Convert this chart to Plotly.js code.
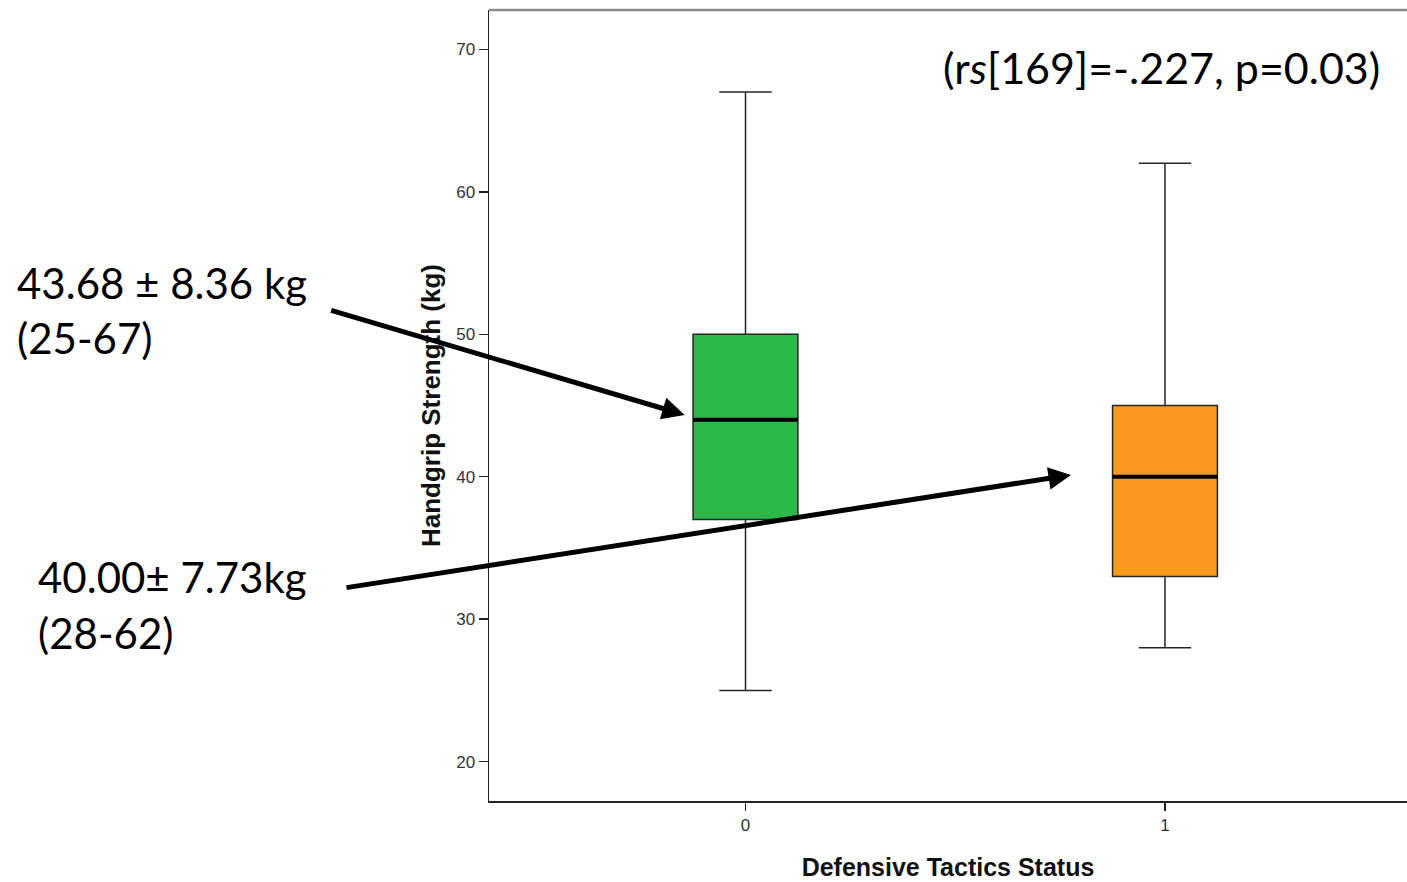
<!DOCTYPE html>
<html>
<head>
<meta charset="utf-8">
<script src="https://cdn.plot.ly/plotly-3.0.1.min.js"></script>
<style>html,body{margin:0;padding:0;background:#fff;}#chart{width:1407px;height:882px;}</style>
</head>
<body>
<div id="chart"></div>
<script>
// ---- data ----
const groups = ['0', '1'];
const groupPos = [0, 1];
const q1 = [37, 33];
const median = [44, 40];
const q3 = [50, 45];
const lowerWhisker = [25, 28];
const upperWhisker = [67, 62];
const boxColors = ['#2db84a', '#f7981f'];
const yTicks = [20, 30, 40, 50, 60, 70];
const summaryLines = [
  ['43.68 ± 8.36 kg', '(25-67)'],
  ['40.00± 7.73kg', '(28-62)']
];
const statText = '(r<i>s</i>[169]=-.227, p=0.03)';

// ---- styles ----
const BOX_W = 0.25;
const axisFont = {family: 'Liberation Sans, Arial, sans-serif', size: 17, color: '#333'};
const xTitleFont = {family: 'Liberation Sans, Arial, sans-serif', size: 25, color: '#111', weight: 'bold'};
const yTitleFont = {family: 'Liberation Sans, Arial, sans-serif', size: 26, color: '#111', weight: 'bold'};
const noteFont = {family: 'Lato, sans-serif', size: 42, color: '#000'};
const statFont = {family: 'Lato, sans-serif', size: 43, color: '#000'};

const traces = [];
groupPos.forEach((p, i) => {
  traces.push({
    type: 'box', x: [p], q1: [q1[i]], median: [median[i]], q3: [q3[i]],
    lowerfence: [lowerWhisker[i]], upperfence: [upperWhisker[i]],
    width: BOX_W, whiskerwidth: 0.5, boxpoints: false,
    fillcolor: boxColors[i], line: {color: '#262626', width: 1.5},
    hoverinfo: 'skip', showlegend: false
  });
});
groupPos.forEach((p, i) => {
  traces.push({
    type: 'scatter', mode: 'lines',
    x: [p - BOX_W / 2, p + BOX_W / 2], y: [median[i], median[i]],
    line: {color: '#000', width: 4}, hoverinfo: 'skip', showlegend: false
  });
});

// annotation placement (paper coords)
const notePos = [
  {x: -0.5163, y: [0.655, 0.585]},
  {x: -0.4935, y: [0.283, 0.213]}
];
const arrowSpec = [
  {dx: -0.145, dy: 0.34, ax: -355, ay: -105},
  {dx: -0.224, dy: 0.13, ax: -726, ay: 113}
];

const annotations = [];
summaryLines.forEach((lines, i) => {
  lines.forEach((t, j) => {
    annotations.push({
      xref: 'paper', yref: 'paper', x: notePos[i].x, y: notePos[i].y[j],
      xanchor: 'left', yanchor: 'middle', text: t, showarrow: false, font: noteFont
    });
  });
  annotations.push({
    xref: 'x', yref: 'y', x: groupPos[i] + arrowSpec[i].dx, y: median[i] + arrowSpec[i].dy,
    ax: arrowSpec[i].ax, ay: arrowSpec[i].ay, text: '', showarrow: true,
    arrowhead: 2, arrowsize: 0.9, arrowwidth: 5, arrowcolor: '#000', standoff: 0
  });
});
annotations.push({
  xref: 'paper', yref: 'paper', x: 0.733, y: 0.9267, xanchor: 'center', yanchor: 'middle',
  text: statText, showarrow: false, font: statFont
});

const layout = {
  width: 1407, height: 882,
  margin: {l: 489, r: 0, t: 10, b: 81},
  paper_bgcolor: '#fff', plot_bgcolor: '#fff',
  showlegend: false,
  xaxis: {
    range: [-0.6115, 1.577], tickvals: groupPos, ticktext: groups,
    showgrid: false, zeroline: false, showline: true, linecolor: '#222', linewidth: 1.5,
    ticks: 'outside', ticklen: 8, tickwidth: 1.5, tickcolor: '#222', tickfont: axisFont,
    title: {text: 'Defensive Tactics Status', font: xTitleFont, standoff: 24}
  },
  yaxis: {
    range: [17.24, 72.76], tickvals: yTicks,
    showgrid: false, zeroline: false, showline: true, linecolor: '#222', linewidth: 1.5,
    ticks: 'outside', ticklen: 9, tickwidth: 1.5, tickcolor: '#222', tickfont: axisFont,
    title: {text: 'Handgrip Strength (kg)', font: yTitleFont, standoff: 8}
  },
  shapes: [{type: 'line', xref: 'paper', yref: 'paper', x0: 0, x1: 1, y0: 1, y1: 1,
            line: {color: '#8a8a8a', width: 2.5}}],
  annotations: annotations
};

Plotly.newPlot('chart', traces, layout, {displayModeBar: false, staticPlot: true});
</script>
</body>
</html>
